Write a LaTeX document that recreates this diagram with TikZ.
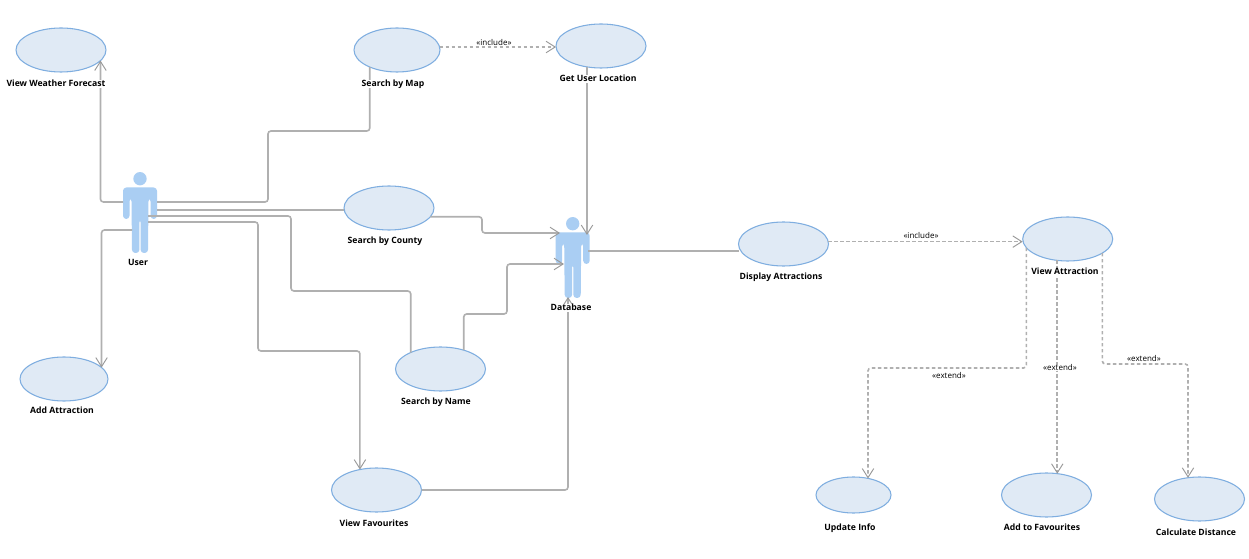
\documentclass[tikz,border=0pt]{standalone}
\usepackage{fontspec}
\setmainfont{Open Sans}
\usetikzlibrary{shapes.geometric,arrows.meta}
\definecolor{ucfill}{HTML}{E0EAF5}
\definecolor{ucline}{HTML}{7FAEE0}
\definecolor{actorblue}{HTML}{AACEF3}
\definecolor{linegray}{HTML}{B0B0B0}
\definecolor{tipgray}{HTML}{999999}
\tikzset{
  x=0.75pt,y=-0.75pt,
  ucase/.style={ellipse,draw=ucline,fill=ucfill,line width=0.8pt,inner sep=0pt,outer sep=0pt,minimum width=#1*0.75pt,minimum height=33pt},
  ucase/.default=90,
  uclabel/.style={font=\fontsize{6.5}{8}\selectfont\bfseries,inner sep=0pt,text=black,text height=5pt,text depth=1.6pt,yshift=-0.7pt,fill=white},
  stereo/.style={font=\fontsize{6}{7}\selectfont,inner sep=0pt,text=black,text height=4.4pt,text depth=0.6pt,fill=white},
  actorbox/.style={inner sep=0pt,outer sep=0pt,minimum width=25pt,minimum height=49.5pt},
  conn/.style={draw=linegray,line width=1.2pt,rounded corners=2.2pt},
  dep/.style={conn,dash pattern=on 2.6pt off 1.9pt},
  tip/.style={-{Straight Barb[length=6.8pt,width=8.6pt,line width=0.7pt,color=tipgray]}},
}
% actor figure: #1 = left x, #2 = top of the head
\newcommand{\actorfig}[2]{%
  \begin{scope}[shift={(#1,#2)}]
    \fill[actorblue] (17,6.7) circle (5pt);
    \fill[actorblue,rounded corners=2.5pt] (0,26) -- (0,47) -- (6.5,47) -- (6.5,26) -- (8.5,26) -- (9,81) -- (16.4,81) -- (16.4,47) -- (17.6,47) -- (17.6,81) -- (25,81) -- (25.5,26) -- (27.5,26) -- (27.5,47) -- (34,47) -- (34,15.5) -- (0,15.5) -- cycle;
  \end{scope}}
\begin{document}
\begin{tikzpicture}
\useasboundingbox[fill=white] (0,0) rectangle (1249,559);

% use cases
\node[ucase] (wf) at (61,50) {};
\node[ucase=86] (map) at (397,50) {};
\node[ucase] (getloc) at (601,46) {};
\node[ucase] (county) at (389,208) {};
\node[ucase] (display) at (783.5,244) {};
\node[ucase] (view) at (1067.7,239) {};
\node[ucase] (name) at (440.5,369) {};
\node[ucase=88] (add) at (64,379) {};
\node[ucase] (fav) at (376.5,490) {};
\node[ucase=75,minimum height=27pt] (update) at (853.5,495) {};
\node[ucase] (addfav) at (1046.5,495) {};
\node[ucase] (calc) at (1199.5,499) {};

% actors
\actorfig{123}{172}
\actorfig{555.7}{217}
\node[actorbox] (user) at (140,212.5) {};
\node[actorbox] (db) at (573,257.5) {};

% ports on the actors
\coordinate (uW) at (123,202);
\coordinate (uE1) at (157,202);
\coordinate (uE2) at (157,210);
\coordinate (uS1) at (148,216);
\coordinate (uS2) at (148,222);
\coordinate (uA) at (132,230);
\coordinate (dbTop) at (587,235);
\coordinate (dbC) at (560,233);
\coordinate (dbN) at (564,264);
\coordinate (dbF) at (568,297);
\coordinate (dbE) at (588,251);

% associations
\draw[conn,tip] (uW) -| (wf.-15.75);
\draw[conn] (uE1) -| (268,131) -| (map.212.4);
\draw[conn] (uE2) -- (uE2 -| county.west);
\draw[conn] (uS1) -| (291,291) -| (name.151.3);
\draw[conn,tip] (uS2) -| (258,351) -| (fav.129.8);
\draw[conn,tip] (uA) -| (add.17.8);
\draw[conn,tip] (county.-12.5) -| (482,225) |- (dbC);
\draw[conn,tip] (name.39.4) |- (507,314) |- (dbN);
\draw[conn,tip] (fav.east) -| (dbF);
\draw[conn,tip] (dbTop |- getloc.-123.8) -- (dbTop);
\draw[conn] (dbE) -- (dbE -| display.west);

% dependencies
\draw[dep,tip] (map.4) -- (map.4 -| getloc.west);
\draw[dep,tip] (display.3.8) -- (display.3.8 -| view.west);
\coordinate (updTop) at (868,478.5);
\draw[dep,tip] (view.-168.7) |- (updTop |- 0,368) -- (updTop);
\draw[dep,tip] (view.-116.6) -- (view.-116.6 |- addfav.62.7);
\coordinate (calcTop) at (1188,477.7);
\draw[dep,tip] (view.-22.5) |- (calcTop |- 0,364) -- (calcTop);

% stereotypes
\node[stereo] (s1) at (494,43) {«include»};
\node[stereo] (s2) at (921,236) {«include»};
\node[stereo] (s3) at (949,376) {«extend»};
\node[stereo] (s4) at (1060,368) {«extend»};
\node[stereo] (s5) at (1144,359) {«extend»};

% labels
\node[uclabel] (lwf) at (56,83) {View Weather Forecast};
\node[uclabel] (lmap) at (393,83) {Search by Map};
\node[uclabel] (lget) at (598,78) {Get User Location};
\node[uclabel] (lcounty) at (385,240) {Search by County};
\node[uclabel] (ldisp) at (781,276) {Display Attractions};
\node[uclabel] (lview) at (1065,271) {View Attraction};
\node[uclabel] (lname) at (436,401) {Search by Name};
\node[uclabel] (ladd) at (62,410) {Add Attraction};
\node[uclabel] (lfav) at (374,523) {View Favourites};
\node[uclabel] (lupd) at (850,527) {Update Info};
\node[uclabel] (laddfav) at (1042,527) {Add to Favourites};
\node[uclabel] (lcalc) at (1196,532) {Calculate Distance};
\node[uclabel] (luser) at (138,262) {User};
\node[uclabel] (ldb) at (571,307) {Database};
\end{tikzpicture}
\end{document}
